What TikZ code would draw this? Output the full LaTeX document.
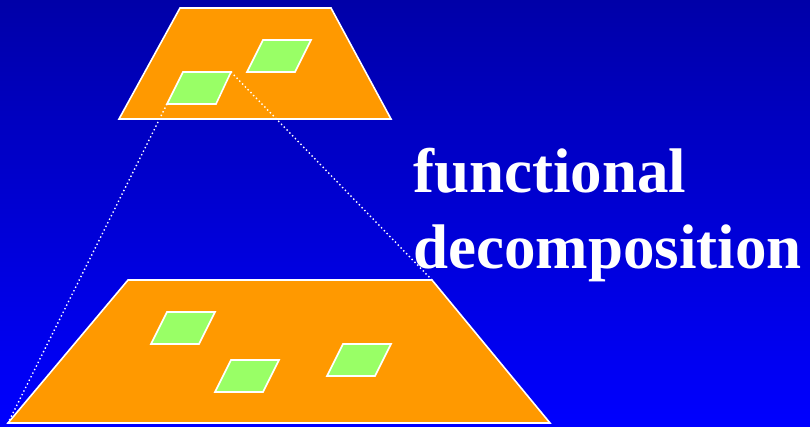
\documentclass[tikz,border=0pt]{standalone}
\usepackage{fontspec}
\setmainfont{Liberation Serif}
\usetikzlibrary{calc}

\definecolor{bgtop}{RGB}{0,0,168}
\definecolor{bgbot}{RGB}{0,0,255}
\definecolor{lvl}{RGB}{255,153,0}
\definecolor{prt}{RGB}{153,255,102}

\begin{document}
\begin{tikzpicture}[
  x=1pt, y=-1pt,
  level/.style={draw=white, fill=lvl, line width=1.6pt, line join=miter},
  part/.style={draw=white, fill=prt, line width=1.6pt},
  zoomline/.style={white, line width=1.4pt, dash pattern=on 1.4pt off 2.6pt},
  title/.style={white, font=\fontsize{63}{76}\selectfont\bfseries, anchor=base west, inner sep=0pt}
]
% background
\shade[top color=bgtop, bottom color=bgbot] (0,0) rectangle (810,426);
\useasboundingbox (0,0) rectangle (810,426);
% upper level
\draw[level] (180,8) -- (331,8) -- (391,119) -- (119,119) -- cycle;
\draw[part] (183,72) -- (231,72) -- (216,104) -- (167,104) -- cycle;
\draw[part] (263,40) -- (311,40) -- (295,72) -- (247,72) -- cycle;
\coordinate (zoomA) at (167,104);
\coordinate (zoomB) at (231,72);
% lower level
\draw[level] (128,280) -- (432,280) -- (550,423) -- (8,423) -- cycle;
\coordinate (lowA) at (8,423);
\coordinate (lowB) at (432,280);
\draw[part] (167,312) -- (215,312) -- (199,344) -- (151,344) -- cycle;
\draw[part] (231,360) -- (279,360) -- (263,392) -- (215,392) -- cycle;
\draw[part] (343,344) -- (391,344) -- (375,376) -- (327,376) -- cycle;
% zoom lines
\draw[zoomline] (zoomA) -- (lowA);
\draw[zoomline] (zoomB) -- (lowB);
% label
\node[title] (func) at (413,192) {functional};
\node[title] (decomp) at (413,268) {decomposition};
\end{tikzpicture}
\end{document}
